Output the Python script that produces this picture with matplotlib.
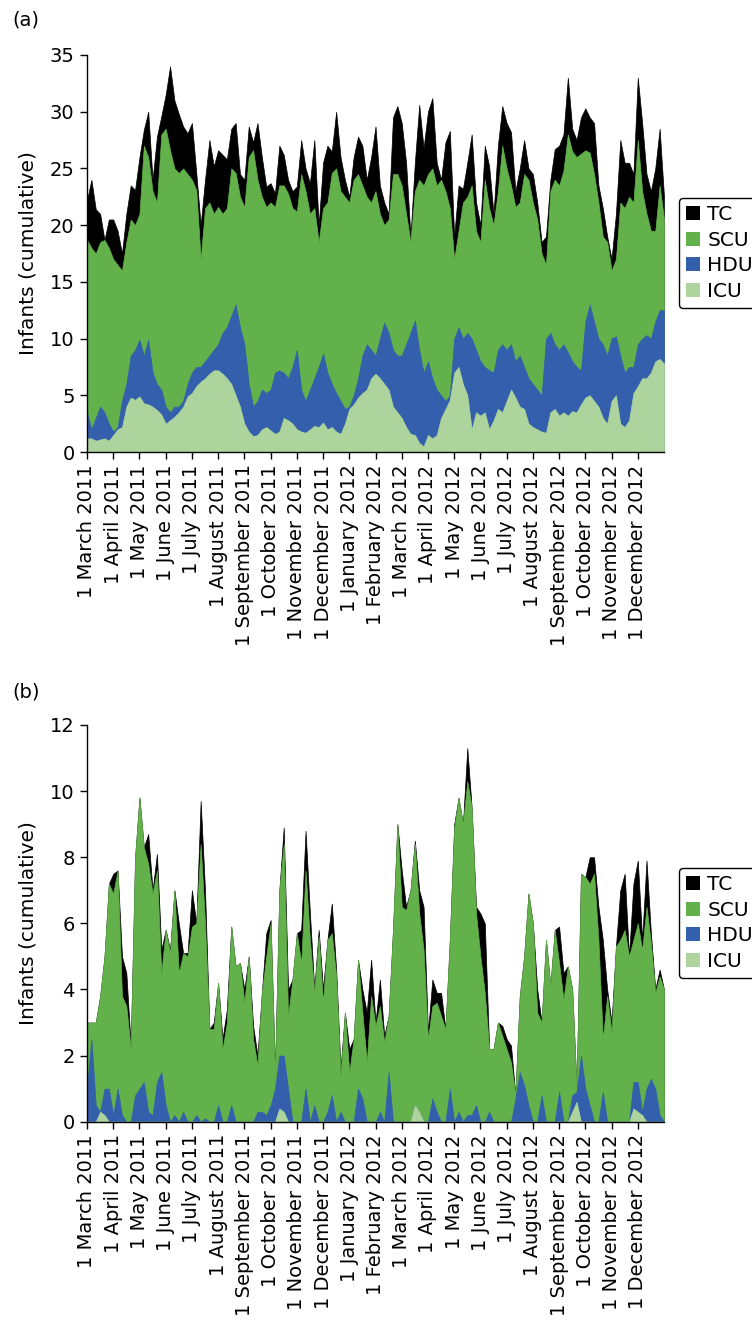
import numpy as np
import matplotlib
matplotlib.use("Agg")
import matplotlib.pyplot as plt
from matplotlib.patches import Patch

# ---------------- data ----------------
month_labels = ["1 March 2011", "1 April 2011", "1 May 2011", "1 June 2011", "1 July 2011",
                "1 August 2011", "1 September 2011", "1 October 2011", "1 November 2011",
                "1 December 2011", "1 January 2012", "1 February 2012", "1 March 2012",
                "1 April 2012", "1 May 2012", "1 June 2012", "1 July 2012", "1 August 2012",
                "1 September 2012", "1 October 2012", "1 November 2012", "1 December 2012"]
samples_per_month = 6
series_names = ["TC", "SCU", "HDU", "ICU"]
series_colors = ["#000000", "#62b14b", "#335fac", "#acd49c"]

# panel (a): cumulative tops of each layer
tc_a = [22.2, 24, 21.4, 21, 18.7, 20.5, 20.5, 19.5, 17.5, 21, 23.5, 23.1, 26, 28.4, 30, 24, 27.8, 29.6,
        31.5, 34, 31, 29.8, 28.7, 28.1, 29, 24.6, 20, 24, 27.5, 25.2, 26.6, 26.2, 25.8, 28.5, 29, 24.5,
        24, 28.7, 27.3, 29, 26, 23.4, 23.7, 22.8, 27,
        26.2, 24, 23, 23.4, 27.5, 25, 23.7, 27.5, 20, 25.5, 27, 26.5, 30, 26, 24, 22.5, 26, 27.8, 27,
        24, 26, 28.7, 23.5, 22, 21, 29.5, 30.5, 29, 25.5, 19, 25.5, 30.6, 26.8, 30, 31.2, 25.5, 24,
        27.3, 28.3, 19, 23.5, 23.2, 25.5, 28,
        22, 20, 27, 25.2, 21, 27, 30.5, 29, 28.2, 23, 25, 27.5, 25, 24.5, 22, 18.5, 19, 24, 26.7, 27,
        28, 33, 28.5, 27.5, 29.5, 30.3, 29.5, 29, 23.5, 21.5, 19, 17, 21, 27.5, 25.5, 25.5, 24.5, 33,
        29, 24.5, 23, 25, 28.5, 22.5]
scu_a = [18.7, 18, 17.5, 18.5, 18.7, 18, 17, 16.5, 16, 18.5, 20.5, 20, 21, 27, 26, 23, 22, 28, 28.5,
         26.6, 25, 24.6, 25, 24.5, 24, 23.1, 17, 21.5, 22, 21, 21.6, 21, 21.5, 25, 24.6, 22.5, 21.6,
         26, 26.6, 24, 22.5, 21.6, 22, 21.6, 23.5,
         23.5, 22.8, 21.5, 21.2, 24.5, 23, 21, 21.5, 18.5, 21.5, 22, 24.6, 25, 23, 22.5, 22, 24, 24.5,
         23.5, 22.5, 22, 23, 21, 20, 20.5, 24.5, 24.5, 23.5, 21, 18.5, 23, 24, 23.5, 24.5, 25, 23.5,
         24, 23, 21.5, 17, 19.5, 22, 22.5, 23.5,
         19.5, 18.5, 24, 21.5, 20, 23, 27, 25, 23.5, 21.6, 22, 24.5, 24, 22, 20.5, 17.5, 16.5, 23, 24,
         23.5, 24.8, 28, 26.5, 26, 26.3, 26.6, 26.4, 24.5, 22, 19, 18.5, 16, 17, 22, 21.5, 22.5, 22,
         27.5, 23, 21, 19.5, 19.5, 23.5, 20.5]
hdu_a = [3.5, 2, 3, 4, 3.5, 2.5, 1.8, 2.2, 4.5, 6, 8.5, 9, 9.9, 8.5, 9.9, 7, 6, 5.5, 4, 3.5, 4, 4,
         4.5, 6, 7, 7.5, 7.5, 8, 8.5, 9, 9.5, 10.5, 11, 12, 13, 11, 9.5, 6, 4, 4.5, 5.5, 5.2, 5.5, 7, 7.2,
         7, 6.5, 7.5, 9, 5.5, 4.5, 5.5, 6.5, 7.5, 8.7, 7, 6, 5.2, 4.5, 3.8, 4, 5, 6.5, 8.5, 9.5, 9,
         8.5, 10, 11.4, 10.5, 9, 8.5, 8.5, 9.5, 10.5, 11.6, 9, 7, 8, 6.5, 5.5, 5, 4.5, 5, 10, 11, 10,
         10.5, 10,
         9, 8, 7.5, 7.2, 7, 9, 9.5, 9, 9.5, 8, 8.5, 7.5, 6.5, 6, 5.5, 5, 10, 10.5, 9.5, 9, 9.5, 8.8, 8,
         7.5, 7.2, 11.5, 13, 11.5, 10, 9.5, 8.5, 10, 10.2, 8.5, 7, 7.5, 7.5, 9.5, 10, 10.3, 10, 11.5,
         12.5, 12.5]
icu_a = [1.2, 1.2, 1.0, 1.1, 1.2, 1.0, 1.5, 2, 2.2, 4, 4.8, 4.6, 4.9, 4.3, 4.2, 4, 3.7, 3.3, 2.5,
         2.8, 3.1, 3.5, 4, 4.9, 5.2, 5.8, 6.2, 6.5, 6.9, 7.2, 7.2, 6.9, 6.5, 6, 5, 4, 2.5, 1.8, 1.4,
         1.5, 2, 2.2, 1.9, 1.6, 1.8,
         3, 2.8, 2.5, 2, 1.8, 1.7, 2, 2.3, 2.2, 2.6, 2, 2.2, 1.8, 1.6, 2.5, 3.8, 4.2, 4.8, 5.2, 5.5,
         6.5, 6.9, 6.5, 6, 5.5, 4, 3.5, 3, 2.2, 1.6, 1.5, 0.8, 0.5, 1.5, 1.2, 1.5, 3, 3.8, 4.6, 7, 7.5,
         6, 5, 2,
         3.5, 3.2, 3.5, 2, 2.8, 3.8, 3.5, 4.5, 5.5, 4.8, 4, 3.8, 2.5, 2.2, 2, 1.8, 1.7, 3.5, 3.8, 3.2,
         3.5, 3.2, 3.6, 3.5, 4.2, 4.8, 5, 4.5, 4, 3, 2.5, 4.5, 5, 2.5, 2.2, 2.8, 5.2, 5.8, 6.5, 6.5,
         7, 8, 8.2, 7.8]

# panel (b): cumulative tops of each layer
tc_b = [3.0, 3.0, 3.0, 3.8, 5.0, 7.2, 7.5, 7.6, 5.0, 4.5, 2.3, 8.0, 9.8, 8.3, 8.7, 7.0, 8.1, 5.2,
        5.8, 5.2, 7.0, 6.0, 5.1, 5.1, 7.0, 6.0, 9.7, 7.0, 2.8, 3.0, 4.2, 2.5, 3.4, 5.9, 4.7, 4.8, 4.0,
        5.0, 2.9, 2.0, 3.9, 5.7, 6.1, 1.5, 7.0,
        8.9, 4.0, 4.3, 5.7, 5.8, 8.8, 6.3, 4.0, 5.8, 4.0, 5.5, 6.6, 4.6, 1.6, 3.3, 2.2, 2.5, 4.9, 4.0,
        3.3, 4.9, 3.0, 4.3, 2.6, 3.2, 5.8, 9.0, 7.6, 6.5, 7.0, 8.5, 7.0, 6.5, 2.7, 4.3, 3.9, 3.9, 2.8,
        5.5, 9.0, 9.8, 9.0, 11.3, 9.5,
        6.5, 6.3, 6.0, 2.2, 2.2, 3.0, 2.9, 2.5, 2.3, 0.8, 3.8, 5.0, 6.9, 6.0, 4.0, 3.0, 5.5, 4.1, 5.8,
        5.9, 4.5, 4.7, 4.0, 1.0, 7.5, 7.4, 8.0, 8.0, 6.5, 5.5, 4.0, 3.0, 5.3, 7.0, 7.5, 5.0, 7.2, 7.9,
        5.5, 7.9, 5.7, 4.0, 4.6, 4.0]
scu_b = [3.0, 3.0, 3.0, 3.8, 5.0, 7.2, 6.9, 7.6, 3.8, 3.5, 2.2, 8.0, 9.8, 8.3, 7.8, 6.9, 7.6, 4.5,
         5.8, 5.1, 7.0, 4.5, 5.1, 5.0, 5.9, 6.0, 8.4, 6.0, 2.8, 2.8, 4.2, 2.2, 3.0, 5.9, 4.7, 4.8, 3.6,
         5.0, 2.5, 1.7, 3.9, 5.0, 6.0, 1.4, 7.0,
         8.4, 3.2, 4.3, 5.7, 4.8, 7.6, 5.5, 3.9, 5.6, 3.6, 5.5, 5.7, 4.4, 1.4, 3.3, 1.5, 2.5, 4.9, 3.3,
         1.8, 3.8, 2.9, 3.5, 2.4, 3.2, 5.8, 9.0, 6.5, 6.4, 7.0, 8.4, 6.3, 5.2, 2.5, 3.5, 3.6, 3.2, 2.8,
         5.5, 8.9, 9.8, 9.0, 10.3, 9.5,
         6.3, 5.0, 3.9, 2.2, 2.2, 3.0, 2.6, 2.2, 1.8, 0.8, 3.8, 5.0, 6.9, 6.0, 3.3, 3.0, 5.5, 4.1, 5.8,
         4.8, 3.7, 4.7, 4.0, 1.0, 7.5, 7.4, 7.2, 7.5, 5.5, 2.5, 3.8, 2.7, 5.3, 5.5, 5.8, 5.0, 5.5, 6.0,
         5.2, 6.5, 5.4, 3.9, 4.4, 4.0]
hdu_b = [1.0, 2.5, 0.5, 0.3, 1.0, 1.0, 0.2, 1.0, 0.2, 0, 0, 0.8, 1.0, 1.2, 0.3, 0.2, 1.2, 1.5, 0.5,
         0, 0.2, 0, 0.3, 0, 0, 0.2, 0, 0.1, 0, 0, 0.5, 0, 0, 0.5, 0, 0, 0, 0, 0, 0.3, 0.3, 0.2, 0.5,
         1.0, 2.0,
         2.0, 1.0, 0, 0, 0, 1.0, 0, 0.5, 0, 0, 0.3, 0.8, 0, 0.3, 0, 0, 0, 1.0, 0.7, 0, 0, 0, 0.3, 0,
         1.5, 0, 0, 0, 0, 0, 0.5, 0.3, 0, 0, 0.7, 0.3, 0, 0, 1.0, 0, 0.3, 0, 0.2, 0.2,
         0.5, 0, 0, 0.3, 0, 0, 0, 0, 0, 0.7, 1.5, 1.1, 0.5, 0, 0, 0.8, 0, 0, 0, 0.9, 0, 0, 0.8, 0.9,
         2.0, 1.0, 0.5, 0, 0, 0.9, 0, 0, 0, 0, 0, 0, 1.2, 1.2, 0.3, 1.0, 1.3, 1.0, 0.2, 0]
icu_b = [0, 0, 0, 0.3, 0.2, 0, 0, 0, 0, 0, 0, 0, 0, 0, 0, 0, 0, 0, 0, 0, 0, 0, 0, 0, 0, 0, 0, 0,
         0, 0, 0, 0, 0, 0, 0, 0, 0, 0, 0, 0, 0, 0, 0, 0, 0.4,
         0.3, 0, 0, 0, 0, 0, 0, 0, 0, 0, 0, 0, 0, 0, 0, 0, 0, 0, 0, 0, 0, 0, 0, 0, 0, 0, 0, 0, 0, 0,
         0.5, 0.3, 0, 0, 0, 0, 0, 0, 0, 0, 0, 0, 0, 0,
         0, 0, 0, 0, 0, 0, 0, 0, 0, 0, 0, 0, 0, 0, 0, 0, 0, 0, 0, 0, 0, 0, 0.3, 0.6, 0, 0, 0, 0, 0,
         0, 0, 0, 0, 0, 0, 0, 0.4, 0.3, 0.2, 0, 0, 0, 0, 0]

# ---------------- plotting ----------------
plt.rcParams["font.family"] = ["DejaVu Sans"]
W, H = 752, 1322
fig = plt.figure(figsize=(W / 100, H / 100), dpi=100)


def fx(px):
    return px / W


def fy(py):
    return 1 - py / H


def panel(rect, series, ymax, ystep, letter, letter_y, legend_top):
    ax = fig.add_axes(rect)
    n = len(series[0])
    x = np.arange(n) / samples_per_month
    for vals, col in zip(series, series_colors):
        ax.fill_between(x, 0, np.asarray(vals, float), color=col,
                        linewidth=0.5, edgecolor=col)
    ax.set_xlim(0, (n - 1) / samples_per_month)
    ax.set_ylim(0, ymax)
    ax.set_yticks(np.arange(0, ymax + 0.1, ystep))
    ax.set_xticks(np.arange(len(month_labels)))
    ax.set_xticklabels(month_labels, rotation=90)
    for s in ["top", "right"]:
        ax.spines[s].set_visible(False)
    for s in ["left", "bottom"]:
        ax.spines[s].set_linewidth(1.0)
    ax.tick_params(direction="out", length=5, width=1, labelsize=14, pad=4)
    ax.set_ylabel("Infants (cumulative)", fontsize=14.5, labelpad=9)
    fig.text(fx(12), fy(letter_y), letter, fontsize=14, va="center", ha="left")
    handles = [Patch(facecolor=c, edgecolor="none") for c in series_colors]
    leg = fig.legend(handles, series_names, loc="upper left",
                     bbox_to_anchor=(fx(679), fy(legend_top)), bbox_transform=fig.transFigure,
                     frameon=True, fancybox=True, framealpha=1, edgecolor="black",
                     fontsize=14.5, handlelength=0.7, handleheight=0.7, handletextpad=0.35,
                     labelspacing=0.33, borderpad=0.35, borderaxespad=0)
    leg.get_frame().set_linewidth(1.0)
    return ax


panel([fx(87), fy(452), fx(664 - 87), (452 - 55) / H],
      [tc_a, scu_a, hdu_a, icu_a], 35, 5, "(a)", 20, 198)
panel([fx(87), fy(1121.7), fx(664 - 87), (1121.7 - 725) / H],
      [tc_b, scu_b, hdu_b, icu_b], 12, 2, "(b)", 692, 868)

fig.savefig("out.png", dpi=100)
